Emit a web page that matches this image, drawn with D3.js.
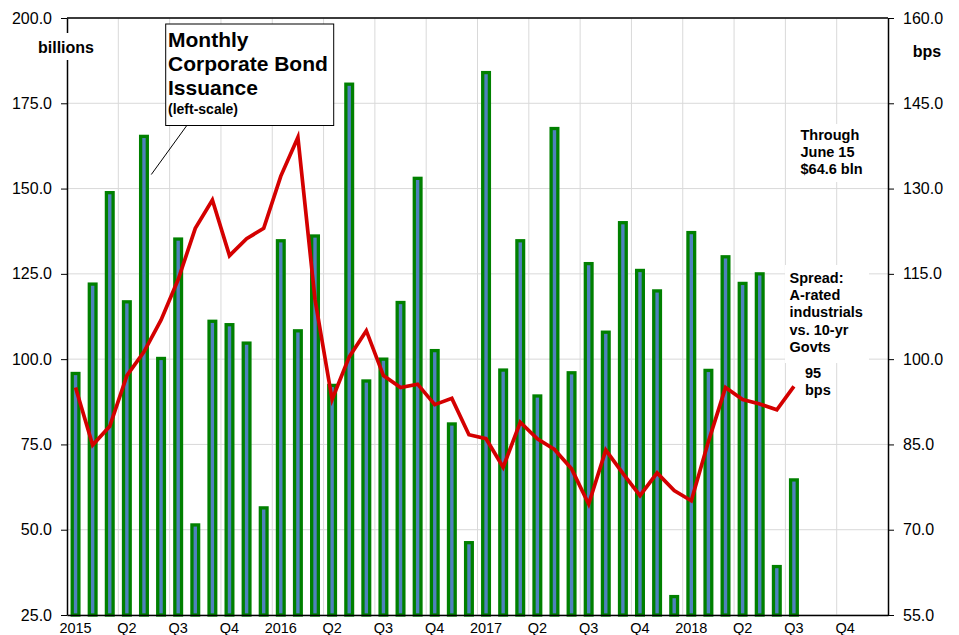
<!DOCTYPE html>
<html>
<head>
<meta charset="utf-8">
<script src="https://d3js.org/d3.v7.min.js"></script>
<style>
  body { margin: 0; background: #fff; }
  text { font-family: Arial, "Liberation Sans", sans-serif; }
</style>
</head>
<body>
<div id="chart"></div>
<script>
// monthly issuance, billions (Jan 2015 ->)
const issuance = [95.8, 122, 148.8, 116.8, 165.3, 100.2, 135.2, 51.4, 111.1, 110.1, 104.7, 56.4,
  134.7, 108.3, 136.1, 92.3, 180.6, 93.6, 100, 116.6, 153, 102.5, 81, 46.2,
  184, 96.8, 134.7, 89.2, 167.6, 96, 128, 107.9, 140, 126, 120, 30.4,
  137.1, 96.7, 130, 122.2, 125, 39.2, 64.6];
// spread A-rated industrials vs 10-yr govts, bps
const spread = [95, 84.9, 88.2, 97.1, 101.3, 106.9, 114, 123, 128, 118.2, 121.2, 123,
  132.2, 139, 110.5, 92.9, 100.4, 105, 97.1, 95, 95.6, 92, 93.1, 86.7,
  86, 81, 88.9, 86, 84.1, 80.7, 74.5, 84, 79.9, 76, 80, 76.9,
  75.1, 85.5, 95, 92.9, 92.1, 91.1, 95.2];
const quarterLabels = ["2015", "Q2", "Q3", "Q4", "2016", "Q2", "Q3", "Q4",
  "2017", "Q2", "Q3", "Q4", "2018", "Q2", "Q3", "Q4"];
const leftTicks = [25, 50, 75, 100, 125, 150, 175, 200];
const rightTicks = [55, 70, 85, 100, 115, 130, 145, 160];

const width = 959;
const height = 635;
const plotL = 67, plotR = 888, plotT = 18, plotB = 615;

const months = d3.timeMonth.range(new Date(2015, 0, 1), new Date(2019, 0, 1));

const x = d3.scaleBand()
  .domain(d3.range(months.length))
  .range([plotL, plotR])
  .padding(0);

const yL = d3.scaleLinear().domain([25, 200]).range([plotB, plotT]);
const yR = d3.scaleLinear().domain([55, 160]).range([plotB, plotT]);

const svg = d3.select("#chart")
  .append("svg")
  .attr("width", width)
  .attr("height", height);

// grid
svg.append("g")
  .selectAll("line")
  .data(leftTicks)
  .enter()
  .append("line")
  .attr("x1", plotL).attr("x2", plotR)
  .attr("y1", (d) => yL(d)).attr("y2", (d) => yL(d))
  .attr("stroke", "#d9d9d9").attr("stroke-width", 1);

svg.append("g")
  .selectAll("line")
  .data(d3.range(3, months.length, 3))
  .enter()
  .append("line")
  .attr("x1", (d) => x(d)).attr("x2", (d) => x(d))
  .attr("y1", plotT).attr("y2", plotB)
  .attr("stroke", "#d9d9d9").attr("stroke-width", 1);

// bars
const barW = 6.7;
svg.append("g")
  .selectAll("rect")
  .data(issuance)
  .enter()
  .append("rect")
  .attr("x", (d, i) => x(i) + x.bandwidth() / 2 - barW / 2)
  .attr("y", (d) => yL(d))
  .attr("width", barW)
  .attr("height", (d) => plotB - yL(d))
  .attr("fill", "#4f81bd")
  .attr("stroke", "#008000")
  .attr("stroke-width", 3.3);

// spread line
const line = d3.line()
  .x((d, i) => x(i) + x.bandwidth() / 2)
  .y((d) => yR(d));

svg.append("path")
  .datum(spread)
  .attr("d", line)
  .attr("fill", "none")
  .attr("stroke", "#d40000")
  .attr("stroke-width", 3.7)
  .attr("stroke-linejoin", "miter");

// frame
svg.append("line")
  .attr("x1", plotL).attr("x2", plotR).attr("y1", plotT).attr("y2", plotT)
  .attr("stroke", "#000").attr("stroke-width", 1.5);

// axes
const yAxisL = svg.append("g")
  .attr("transform", `translate(${plotL},0)`)
  .call(d3.axisLeft(yL).tickValues(leftTicks).tickFormat(d3.format(".1f"))
    .tickSize(6).tickSizeOuter(0).tickPadding(9));

const yAxisR = svg.append("g")
  .attr("transform", `translate(${plotR},0)`)
  .call(d3.axisRight(yR).tickValues(rightTicks).tickFormat(d3.format(".1f"))
    .tickSize(6).tickSizeOuter(0).tickPadding(9));

const xAxis = svg.append("g")
  .attr("transform", `translate(0,${plotB})`)
  .call(d3.axisBottom(x).tickValues(d3.range(0, months.length, 3))
    .tickFormat((d) => quarterLabels[d / 3])
    .tickSize(0).tickSizeOuter(0).tickPadding(8));

[yAxisL, yAxisR].forEach((g) => {
  g.selectAll("text").style("font-size", "16px").attr("fill", "#000");
  g.select(".domain").attr("stroke", "#000").attr("stroke-width", 1.5);
  g.selectAll(".tick line").attr("stroke", "#000");
});
xAxis.selectAll("text").style("font-size", "14.5px").attr("fill", "#000");
xAxis.select(".domain").attr("stroke", "#000").attr("stroke-width", 1.5);

// labels with white backgrounds
const addBox = (x0, y0, w, h, border) => {
  svg.append("rect")
    .attr("x", x0).attr("y", y0).attr("width", w).attr("height", h)
    .attr("fill", "#fff")
    .attr("stroke", border ? "#000" : "none")
    .attr("stroke-width", 1);
};
const addLines = (x0, y0, lines, size, step, anchor) => {
  const t = svg.append("text")
    .attr("x", x0).attr("y", y0)
    .attr("text-anchor", anchor || "start")
    .style("font-weight", "bold")
    .style("font-size", size + "px");
  lines.forEach((s, i) => {
    t.append("tspan").attr("x", x0).attr("y", y0 + i * step).text(s);
  });
};

addBox(35, 33, 62, 27, false);
addLines(66, 53, ["billions"], 16, 0, "middle");
addLines(927, 57, ["bps"], 16, 0, "middle");

// title callout
svg.append("line")
  .attr("x1", 186.8).attr("y1", 125.5)
  .attr("x2", 151.3).attr("y2", 174.5)
  .attr("stroke", "#000").attr("stroke-width", 1);
addBox(165.7, 24, 168, 101.5, true);
addLines(168, 47, ["Monthly", "Corporate Bond", "Issuance"], 21, 24);
addLines(168, 114, ["(left-scale)"], 14, 0);

addBox(796, 124, 70, 58, false);
addLines(800.5, 140, ["Through", "June 15", "$64.6 bln"], 14.5, 17);

addBox(785, 265, 84, 98, false);
addLines(789.5, 283, ["Spread:", "A-rated", "industrials", "vs. 10-yr", "Govts"], 14.5, 17.2);
addLines(805, 378, ["95", "bps"], 14.5, 17);
</script>
</body>
</html>
